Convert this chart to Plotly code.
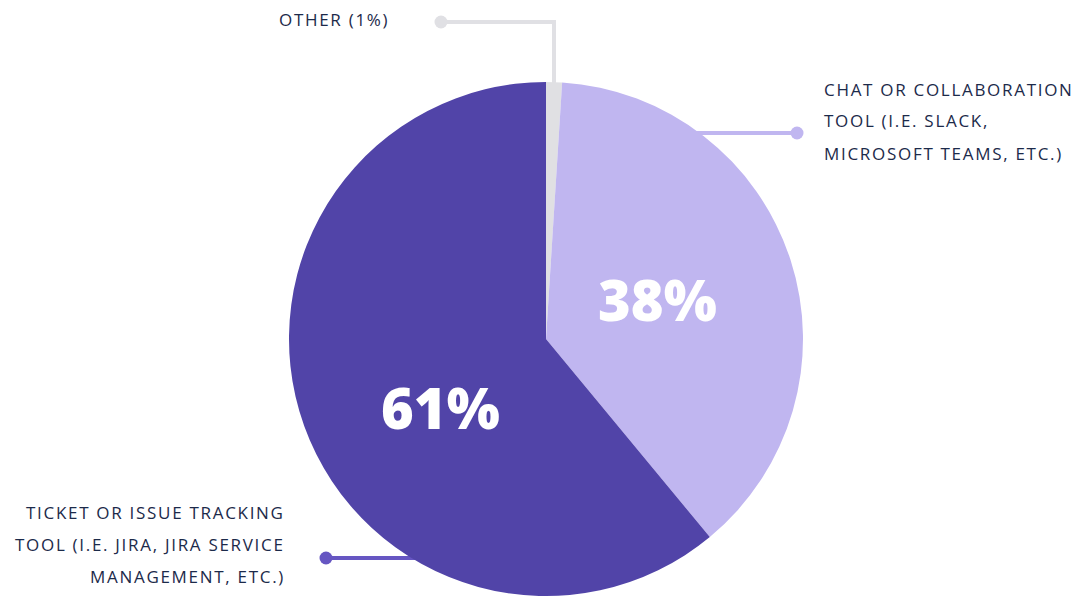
import plotly.graph_objects as go

W, H = 1079, 596

categories = ["OTHER (1%)", "CHAT OR COLLABORATION TOOL (I.E. SLACK, MICROSOFT TEAMS, ETC.)",
              "TICKET OR ISSUE TRACKING TOOL (I.E. JIRA, JIRA SERVICE MANAGEMENT, ETC.)"]
values = [1, 38, 61]
inside_text = ["", "38%", "61%"]
colors = ["#E0E0E3", "#C0B6F0", "#5144A8"]
line_colors = ["#E0E0E4", "#C0B6F0", "#6656C2"]

label_other = ["OTHER (1%)"]
label_chat = ["CHAT OR COLLABORATION", "TOOL (I.E. SLACK,", "MICROSOFT TEAMS, ETC.)"]
label_ticket = ["TICKET OR ISSUE TRACKING", "TOOL (I.E. JIRA, JIRA SERVICE", "MANAGEMENT, ETC.)"]

def px(x):
    return x / W

def py(y):
    return 1 - y / H

fig = go.Figure()
fig.add_trace(go.Pie(
    values=values,
    labels=categories,
    textinfo="none",
    sort=False,
    direction="clockwise",
    rotation=0,
    marker=dict(colors=colors, line=dict(width=0)),
    hoverinfo="label+percent",
    domain=dict(x=[px(288), px(804)], y=[0, 514 / H]),
))

shapes = []
LW = 4
shapes.append(dict(type="path", xref="paper", yref="paper",
                   path=f"M {px(441)} {py(22)} L {px(554)} {py(22)} L {px(554)} {py(84)}",
                   line=dict(color=line_colors[0], width=LW), layer="below"))
shapes.append(dict(type="line", xref="paper", yref="paper",
                   x0=px(690), y0=py(133), x1=px(797), y1=py(133),
                   line=dict(color=line_colors[1], width=LW), layer="below"))
shapes.append(dict(type="line", xref="paper", yref="paper",
                   x0=px(326), y0=py(558), x1=px(415), y1=py(558),
                   line=dict(color=line_colors[2], width=LW), layer="below"))
for (cx, cy), c in zip([(441, 22), (797, 133), (326, 558)], line_colors):
    r = 6.5
    shapes.append(dict(type="circle", xref="paper", yref="paper",
                       x0=px(cx - r), x1=px(cx + r), y0=py(cy + r), y1=py(cy - r),
                       fillcolor=c, line=dict(width=0)))

annotations = []
FONT = dict(family="Open Sans", size=17, color="#1C2A4A")
LS = "letter-spacing:1.7px"

def sp(t):
    return f'<span style="{LS}">{t}</span>'

annotations.append(dict(x=px(391), y=py(20), xref="paper", yref="paper", text=sp(label_other[0]),
                        showarrow=False, xanchor="right", yanchor="middle", font=FONT))
for i, t in enumerate(label_chat):
    annotations.append(dict(x=px(822), y=py(89 + 32 * i), xref="paper", yref="paper", text=sp(t),
                            showarrow=False, xanchor="left", yanchor="middle", font=FONT))
for i, t in enumerate(label_ticket):
    annotations.append(dict(x=px(287), y=py(512 + 32 * i), xref="paper", yref="paper", text=sp(t),
                            showarrow=False, xanchor="right", yanchor="middle", font=FONT))

PFONT = dict(family="Open Sans", size=56, color="white", weight=800)
for t, (cx, cy) in zip(inside_text[1:], [(657, 299), (440, 407)]):
    annotations.append(dict(x=px(cx), y=py(cy), xref="paper", yref="paper", text=t,
                            showarrow=False, xanchor="center", yanchor="middle", font=PFONT))

fig.update_layout(
    width=W, height=H,
    margin=dict(l=0, r=0, t=0, b=0),
    showlegend=False,
    paper_bgcolor="white",
    plot_bgcolor="white",
    shapes=shapes,
    annotations=annotations,
)

fig.write_html("out.html", config={"displayModeBar": False},
               post_script="document.body.style.margin='0';")
